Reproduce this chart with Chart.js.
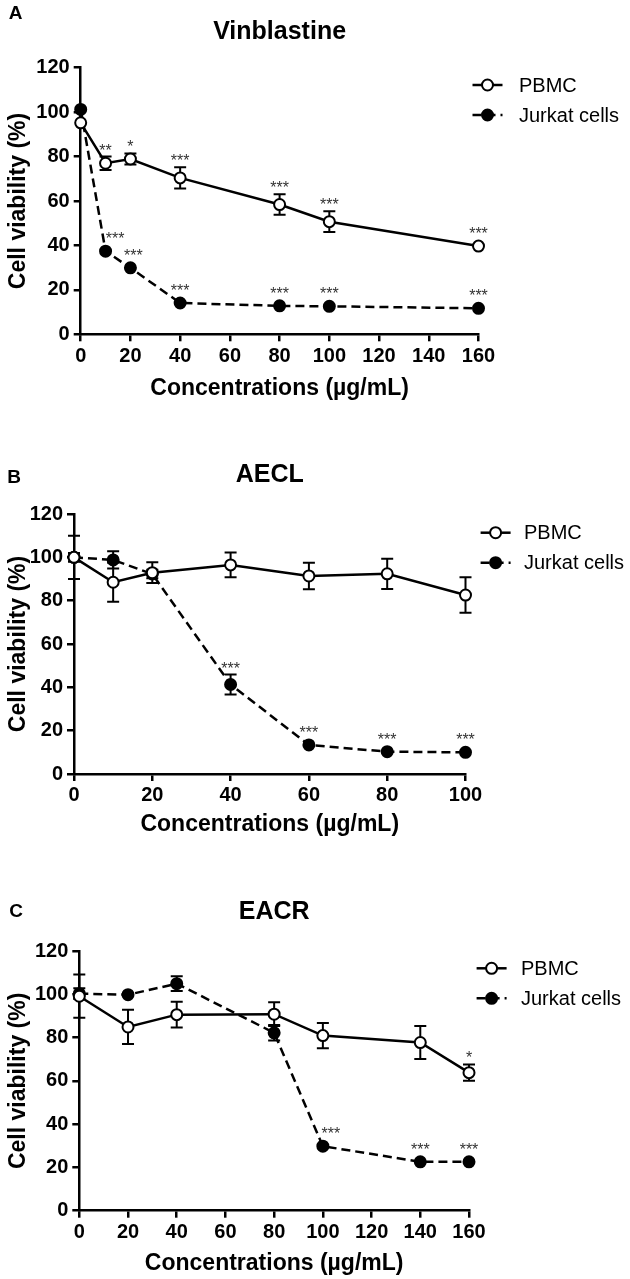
<!DOCTYPE html>
<html>
<head>
<meta charset="utf-8">
<script src="https://cdn.jsdelivr.net/npm/chart.js@4.4.1/dist/chart.umd.min.js"></script>
<style>
  html, body { margin: 0; padding: 0; background: #fff; }
  #wrap { position: relative; width: 630px; height: 1279px; }
  canvas { position: absolute; left: 0; }
</style>
</head>
<body>
<div id="wrap">
  <canvas id="chart-a" width="630" height="420" style="top:0"></canvas>
  <canvas id="chart-b" width="630" height="420" style="top:420px"></canvas>
  <canvas id="chart-c" width="630" height="439" style="top:840px"></canvas>
</div>
<script>
// A - Vinblastine
const vinConc = [0, 10, 20, 40, 80, 100, 160];
const vinPbmc = [95.2, 77, 78.9, 70.4, 58.4, 50.7, 39.7];
const vinPbmcSd = [0, 3, 2.5, 4.8, 4.6, 4.7, 0];
const vinJurkat = [101.2, 37.4, 29.9, 14.1, 12.8, 12.6, 11.7];
const vinJurkatSd = [0, 0, 0, 0, 0, 0, 0];
const vinPbmcSig = ['', '**', '*', '***', '***', '***', '***'];
const vinJurkatSig = ['', '***', '***', '***', '***', '***', '***'];

// B - AECL
const aeclConc = [0, 10, 20, 40, 60, 80, 100];
const aeclPbmc = [100, 88.5, 92.9, 96.5, 91.4, 92.4, 82.6];
const aeclPbmcSd = [10, 9, 4.8, 5.7, 6.1, 7, 8.2];
const aeclJurkat = [100, 98.8, 92.3, 41.3, 13.4, 10.3, 10.0];
const aeclJurkatSd = [2, 4, 2, 4.6, 0, 0, 0];
const aeclPbmcSig = ['', '', '', '', '', '', ''];
const aeclJurkatSig = ['', '', '', '***', '***', '***', '***'];

// C - EACR
const eacrConc = [0, 20, 40, 80, 100, 140, 160];
const eacrPbmc = [99.1, 84.9, 90.6, 90.8, 80.9, 77.7, 63.8];
const eacrPbmcSd = [10, 7.9, 6, 5.5, 5.8, 7.6, 3.8];
const eacrJurkat = [100.3, 99.8, 104.9, 82.2, 29.8, 22.6, 22.6];
const eacrJurkatSd = [2.5, 0, 3.4, 3.6, 0, 0, 0];
const eacrPbmcSig = ['', '', '', '', '', '', '*'];
const eacrJurkatSig = ['', '', '', '', '***', '***', '***'];

const FONT = "'Liberation Sans', Arial, Helvetica, sans-serif";

// error bars under the markers, stars above, letter/title/legend on top
const panelDecor = {
  id: 'panelDecor',
  beforeDatasetsDraw(chart) {
    const {ctx, scales: {x, y}} = chart;
    ctx.save();
    ctx.strokeStyle = '#000';
    ctx.lineWidth = 2;
    ctx.setLineDash([]);
    chart.data.datasets.forEach(ds => {
      ds.data.forEach((p, j) => {
        const e = ds.sd[j];
        if (!e) return;
        const px = x.getPixelForValue(p.x);
        const top = y.getPixelForValue(p.y + e), bot = y.getPixelForValue(p.y - e);
        ctx.beginPath();
        ctx.moveTo(px, top); ctx.lineTo(px, bot);
        ctx.moveTo(px - 6, top); ctx.lineTo(px + 6, top);
        ctx.moveTo(px - 6, bot); ctx.lineTo(px + 6, bot);
        ctx.stroke();
      });
    });
    ctx.restore();
  },
  afterDatasetsDraw(chart, args, o) {
    const {ctx, scales: {x, y}} = chart;
    ctx.save();
    ctx.fillStyle = '#333';
    ctx.font = `16px ${FONT}`;
    ctx.textAlign = 'center';
    ctx.textBaseline = 'alphabetic';
    chart.data.datasets.forEach((ds, i) => {
      ds.data.forEach((p, j) => {
        const s = ds.sig[j];
        if (!s) return;
        const px = x.getPixelForValue(p.x) + ((o.starShift || {})[i + '-' + j] || 0);
        const cy = Math.min(y.getPixelForValue(p.y + (ds.sd[j] || 0)) - 10, y.getPixelForValue(p.y) - 16);
        ctx.fillText(s, px, cy + 9);
      });
    });
    ctx.restore();
  },
  afterDraw(chart, args, o) {
    const {ctx, chartArea} = chart;
    ctx.save();
    ctx.fillStyle = '#000';
    ctx.textBaseline = 'middle';
    ctx.textAlign = 'center';
    ctx.font = `bold 19px ${FONT}`;
    ctx.fillText(o.letter, o.letterX, o.letterY);
    ctx.font = `bold 25px ${FONT}`;
    ctx.fillText(o.title, (chartArea.left + chartArea.right) / 2, o.titleY);

    // legend
    chart.data.datasets.forEach((ds, i) => {
      const ly = o.legY + i * 30;
      const x1 = o.legX, x2 = o.legX + 30, mx = o.legX + 15;
      ctx.strokeStyle = '#000';
      ctx.lineWidth = 2.5;
      ctx.setLineDash(ds.borderDash || []);
      ctx.beginPath(); ctx.moveTo(x1, ly); ctx.lineTo(x2, ly); ctx.stroke();
      ctx.setLineDash([]);
      ctx.beginPath(); ctx.arc(mx, ly, 5.5, 0, Math.PI * 2);
      ctx.fillStyle = ds.pointBackgroundColor;
      ctx.fill();
      ctx.lineWidth = 2;
      ctx.stroke();
      ctx.fillStyle = '#000';
      ctx.font = `20px ${FONT}`;
      ctx.textAlign = 'left';
      ctx.fillText(ds.label, o.legTextX, ly + 1);
    });
    ctx.restore();
  }
};
Chart.register(panelDecor);

function makePanel(id, d, g) {
  const pts = vals => d.conc.map((c, i) => ({x: c, y: vals[i]}));
  return new Chart(document.getElementById(id), {
    type: 'line',
    data: {
      datasets: [
        {
          label: 'PBMC', data: pts(d.pbmc), sd: d.pbmcSd, sig: d.pbmcSig,
          borderColor: '#000', borderWidth: 2.5, tension: 0,
          pointRadius: 5.5, pointBorderWidth: 2, pointBackgroundColor: '#fff', pointBorderColor: '#000',
          clip: false
        },
        {
          label: 'Jurkat cells', data: pts(d.jurkat), sd: d.jurkatSd, sig: d.jurkatSig,
          borderColor: '#000', borderWidth: 2.5, borderDash: [9, 5], tension: 0,
          pointRadius: 5.5, pointBorderWidth: 2, pointBackgroundColor: '#000', pointBorderColor: '#000',
          clip: false
        }
      ]
    },
    options: {
      responsive: false, animation: false,
      layout: {padding: g.pad},
      scales: {
        x: {
          type: 'linear', min: 0, max: d.xMax,
          afterFit: s => { s.height = g.xHeight; },
          border: {display: true, color: '#000', width: 2.5},
          grid: {drawOnChartArea: false, drawTicks: true, tickLength: 7, color: '#000', lineWidth: 2.5},
          ticks: {stepSize: 20, color: '#000', padding: g.tickPad, maxRotation: 0, autoSkip: false, font: {family: FONT, size: 20, weight: 'bold'}},
          title: {display: true, text: 'Concentrations (\u00b5g/mL)', color: '#000', padding: {top: 0, bottom: 0}, font: {family: FONT, size: 23, weight: 'bold'}}
        },
        y: {
          min: 0, max: 120,
          afterFit: s => { s.width = g.yWidth; },
          border: {display: true, color: '#000', width: 2.5},
          grid: {drawOnChartArea: false, drawTicks: true, tickLength: 7, color: '#000', lineWidth: 2.5},
          ticks: {stepSize: 20, color: '#000', padding: 4, font: {family: FONT, size: 20, weight: 'bold'}},
          title: {display: true, text: 'Cell viability (%)', color: '#000', padding: {top: 5, bottom: 0}, font: {family: FONT, size: 23, weight: 'bold'}}
        }
      },
      plugins: {
        legend: {display: false},
        title: {display: false},
        tooltip: {enabled: false},
        panelDecor: g.decor
      }
    }
  });
}

makePanel('chart-a',
  {conc: vinConc, pbmc: vinPbmc, pbmcSd: vinPbmcSd, pbmcSig: vinPbmcSig, jurkat: vinJurkat, jurkatSd: vinJurkatSd, jurkatSig: vinJurkatSig, xMax: 160},
  {yWidth: 80.7, xHeight: 67.8, tickPad: 3.5, pad: {left: 0, top: 67.7, right: 151.5, bottom: 17.9},
   decor: {letter: 'A', letterX: 15.5, letterY: 14, title: 'Vinblastine', titleY: 31.7, legX: 472.5, legTextX: 519, legY: 85, starShift: {'1-1': 9.5, '1-2': 3}}});

makePanel('chart-b',
  {conc: aeclConc, pbmc: aeclPbmc, pbmcSd: aeclPbmcSd, pbmcSig: aeclPbmcSig, jurkat: aeclJurkat, jurkatSd: aeclJurkatSd, jurkatSig: aeclJurkatSig, xMax: 100},
  {yWidth: 74, xHeight: 64.8, tickPad: 2.5, pad: {left: 0, top: 94, right: 164.5, bottom: 1.2},
   decor: {letter: 'B', letterX: 14, letterY: 58, title: 'AECL', titleY: 55, legX: 480.6, legTextX: 524, legY: 112.7}});

makePanel('chart-c',
  {conc: eacrConc, pbmc: eacrPbmc, pbmcSd: eacrPbmcSd, pbmcSig: eacrPbmcSig, jurkat: eacrJurkat, jurkatSd: eacrJurkatSd, jurkatSig: eacrJurkatSig, xMax: 160},
  {yWidth: 79.3, xHeight: 66.4, tickPad: 3, pad: {left: 0, top: 111, right: 161, bottom: 1.9},
   decor: {letter: 'C', letterX: 16, letterY: 72, title: 'EACR', titleY: 71.7, legX: 476.6, legTextX: 521, legY: 128.3, starShift: {'1-4': 8}}});
</script>
</body>
</html>
